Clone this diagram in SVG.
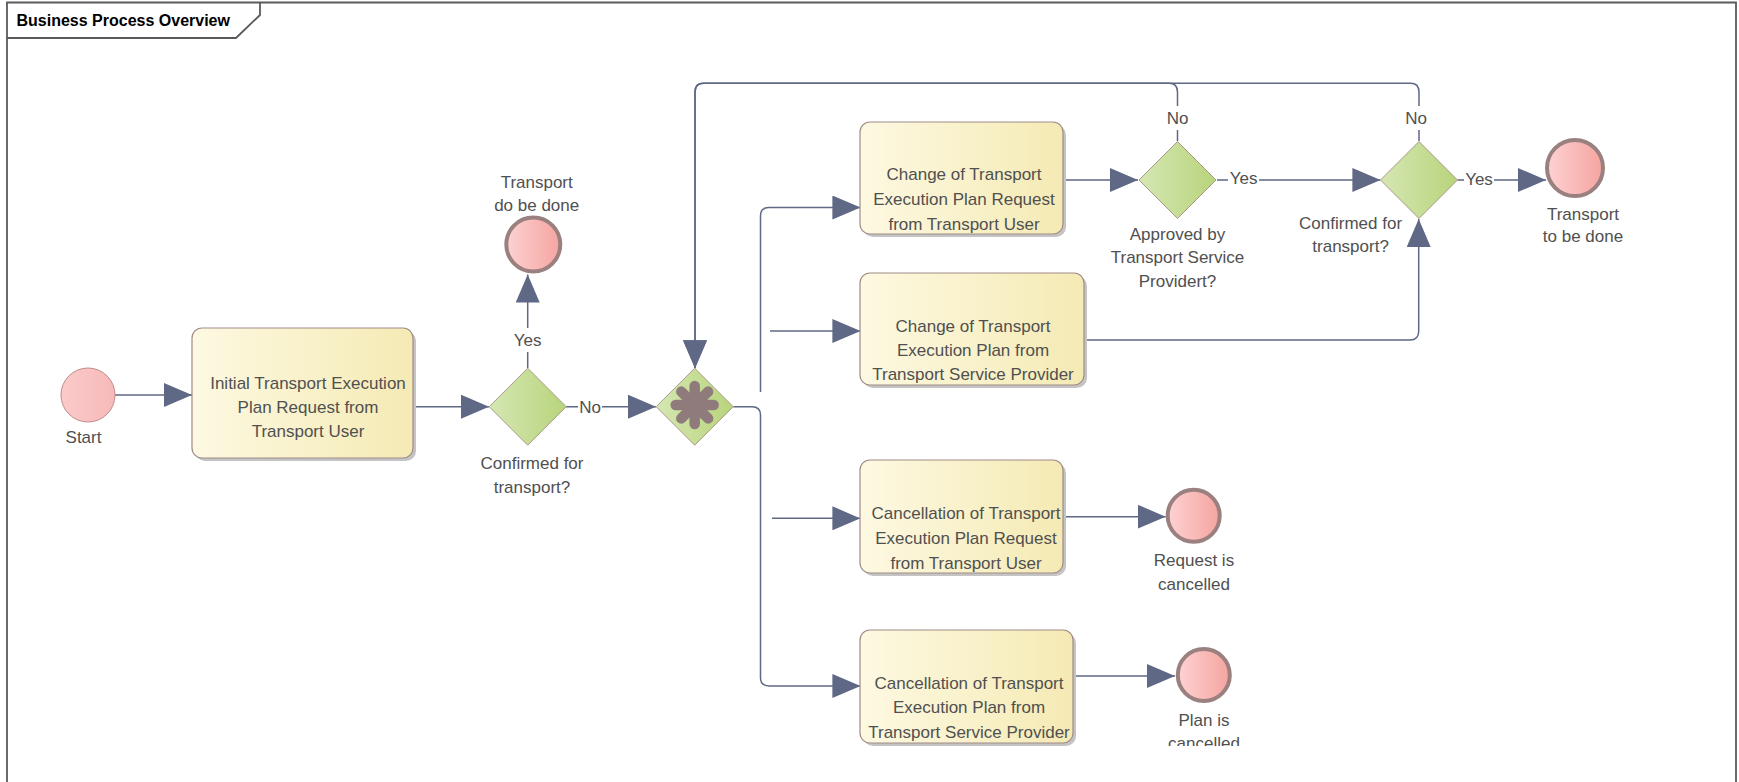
<svg xmlns="http://www.w3.org/2000/svg" width="1739" height="782" viewBox="0 0 1739 782">
<style>
.frame{fill:none;stroke:#5a5a5a;stroke-width:1.8}
.title{font-family:"Liberation Sans",Arial,sans-serif;font-size:16px;font-weight:bold;fill:#000}
.task{fill:url(#gTask);stroke:#a08c86;stroke-width:1.2}
.shadow{fill:#c4c4c4}
.gw{fill:url(#gGw);stroke:#a89a86;stroke-width:1}
.start{fill:url(#gStart);stroke:#c08a8a;stroke-width:1}
.end{fill:url(#gEnd);stroke:#9b8080;stroke-width:4}
.t{font-family:"Liberation Sans",Arial,sans-serif;font-size:17px;fill:#505050;text-anchor:middle}
.conn{fill:none;stroke:#5f6884;stroke-width:1.5;marker-end:url(#arr)}
.star{stroke:#8f7b7b;stroke-width:10.5;stroke-linecap:round}
</style>
<defs>
<linearGradient id="gTask" x1="0" y1="0" x2="1" y2="0"><stop offset="0" stop-color="#fdf9e2"/><stop offset="1" stop-color="#f5eab4"/></linearGradient>
<linearGradient id="gGw" x1="0" y1="0" x2="1" y2="0"><stop offset="0" stop-color="#d5e7b3"/><stop offset="1" stop-color="#b8d47b"/></linearGradient>
<linearGradient id="gStart" x1="0" y1="0" x2="1" y2="0"><stop offset="0" stop-color="#fbcaca"/><stop offset="1" stop-color="#f7b9b9"/></linearGradient>
<linearGradient id="gEnd" x1="0" y1="0" x2="1" y2="0"><stop offset="0" stop-color="#fdd2d2"/><stop offset="1" stop-color="#f5a4a0"/></linearGradient>
<marker id="arr" viewBox="0 0 28 24" refX="28" refY="12" markerWidth="28" markerHeight="24" markerUnits="userSpaceOnUse" orient="auto"><path d="M0,0 L28,12 L0,24 Z" fill="#5f6884"/></marker>
<clipPath id="clipBottom"><rect x="0" y="0" width="1739" height="746"/></clipPath>
</defs>
<rect x="0" y="0" width="1739" height="782" fill="#ffffff"/>
<g id="frame">
<path class="frame" d="M7,790 V2.5 H1736 V790"/>
<path class="frame" d="M7,38 H236 L260,15 V2.5"/>
<text class="title" x="16.5" y="25.5">Business Process Overview</text>
</g>
<g id="connectors">
<path class="conn" d="M115,395 H192"/>
<path class="conn" d="M413,406.7 H489"/>
<path class="conn" d="M566,406.7 H578 M602,406.7 H656"/>
<path class="conn" d="M527.7,368 V352 M527.7,328 V274.5"/>
<path class="conn" d="M1177.5,141 V130 M1177.5,106 V92 Q1177.5,83.3 1169,83.3 H703.5 Q695,83.3 695,92 V368.3"/>
<path class="conn" d="M1419,141 V130 M1419,106 V92 Q1419,83.3 1410.5,83.3 H703.5 Q695,83.3 695,92 V368.3"/>
<path class="conn" d="M733.3,406.7 H752 Q760.5,406.7 760.5,415 V677.5 Q760.5,686 769,686 H860.4"/>
<path class="conn" d="M772,518.3 H860.4"/>
<path class="conn" d="M760.5,392 V216 Q760.5,207.5 769,207.5 H860.4"/>
<path class="conn" d="M770,331 H860.4"/>
<path class="conn" d="M1063,180 H1138"/>
<path class="conn" d="M1217,180 H1228 M1259,180 H1380.4"/>
<path class="conn" d="M1457.4,180 H1464 M1494,180 H1546"/>
<path class="conn" d="M1084,340 H1410 Q1418.7,340 1418.7,331 V219"/>
<path class="conn" d="M1063,516.7 H1165.7"/>
<path class="conn" d="M1073,676 H1175"/>
<text class="t" x="590" y="413">No</text>
<text class="t" x="527.7" y="346">Yes</text>
<text class="t" x="1177.5" y="124">No</text>
<text class="t" x="1243.6" y="183.5">Yes</text>
<text class="t" x="1416" y="124">No</text>
<text class="t" x="1479" y="184.5">Yes</text>
</g>
<g id="start">
<circle class="start" cx="88" cy="395" r="27"/>
<text class="t" x="83.5" y="443">Start</text>
</g>
<g id="task-initial">
<rect class="shadow" x="195" y="331" width="221" height="130" rx="10"/>
<rect class="task" x="192" y="328" width="221" height="130" rx="10"/>
<text class="t" x="308" y="389">Initial Transport Execution</text>
<text class="t" x="308" y="413">Plan Request from</text>
<text class="t" x="308" y="437">Transport User</text>
</g>
<g id="gw-confirmed-1">
<path class="gw" d="M527.7,368.2 L566.2,406.7 L527.7,445.2 L489.2,406.7 Z"/>
<text class="t" x="532" y="468.5">Confirmed for</text>
<text class="t" x="532" y="492.5">transport?</text>
</g>
<g id="end-do-be-done">
<circle class="end" cx="533.3" cy="244.5" r="27"/>
<text class="t" x="536.7" y="188">Transport</text>
<text class="t" x="536.7" y="210.5">do be done</text>
</g>
<g id="gw-event">
<path class="gw" d="M694.7,368.2 L733.2,406.7 L694.7,445.2 L656.2,406.7 Z"/>
<g class="star">
<line x1="694.7" y1="386" x2="694.7" y2="424"/>
<line x1="675.7" y1="405" x2="713.7" y2="405"/>
<line x1="681.3" y1="391.6" x2="708.1" y2="418.4"/>
<line x1="681.3" y1="418.4" x2="708.1" y2="391.6"/>
</g>
</g>
<g id="task-change-user">
<rect class="shadow" x="863" y="125" width="203" height="112" rx="10"/>
<rect class="task" x="860" y="122" width="203" height="112" rx="10"/>
<text class="t" x="964" y="180">Change of Transport</text>
<text class="t" x="964" y="205">Execution Plan Request</text>
<text class="t" x="964" y="229.5">from Transport User</text>
</g>
<g id="task-change-provider">
<rect class="shadow" x="863" y="276" width="224" height="112" rx="10"/>
<rect class="task" x="860" y="273" width="224" height="112" rx="10"/>
<text class="t" x="973" y="332">Change of Transport</text>
<text class="t" x="973" y="355.5">Execution Plan from</text>
<text class="t" x="973" y="379.5">Transport Service Provider</text>
</g>
<g id="task-cancel-user">
<rect class="shadow" x="863" y="463" width="203" height="113" rx="10"/>
<rect class="task" x="860" y="460" width="203" height="113" rx="10"/>
<text class="t" x="966" y="519">Cancellation of Transport</text>
<text class="t" x="966" y="543.5">Execution Plan Request</text>
<text class="t" x="966" y="568.5">from Transport User</text>
</g>
<g id="task-cancel-provider">
<rect class="shadow" x="863" y="633" width="213" height="113" rx="10"/>
<rect class="task" x="860" y="630" width="213" height="113" rx="10"/>
<text class="t" x="969" y="688.5">Cancellation of Transport</text>
<text class="t" x="969" y="713">Execution Plan from</text>
<text class="t" x="969" y="737.5">Transport Service Provider</text>
</g>
<g id="gw-approved">
<path class="gw" d="M1177.5,141.5 L1216,180 L1177.5,218.5 L1139,180 Z"/>
<text class="t" x="1177.5" y="240">Approved by</text>
<text class="t" x="1177.5" y="263">Transport Service</text>
<text class="t" x="1177.5" y="287">Providert?</text>
</g>
<g id="gw-confirmed-2">
<path class="gw" d="M1419,141.5 L1457.5,180 L1419,218.5 L1380.5,180 Z"/>
<text class="t" x="1350.6" y="229">Confirmed for</text>
<text class="t" x="1350.6" y="251.5">transport?</text>
</g>
<g id="end-to-be-done">
<circle class="end" cx="1575" cy="168" r="28"/>
<text class="t" x="1583" y="219.5">Transport</text>
<text class="t" x="1583" y="242">to be done</text>
</g>
<g id="end-request-cancelled">
<circle class="end" cx="1193.7" cy="515.7" r="26"/>
<text class="t" x="1194" y="566">Request is</text>
<text class="t" x="1194" y="590">cancelled</text>
</g>
<g id="end-plan-cancelled">
<circle class="end" cx="1203.8" cy="675" r="26"/>
<text class="t" x="1204" y="726">Plan is</text>
<text class="t" x="1204" y="749" clip-path="url(#clipBottom)">cancelled</text>
</g>
</svg>
